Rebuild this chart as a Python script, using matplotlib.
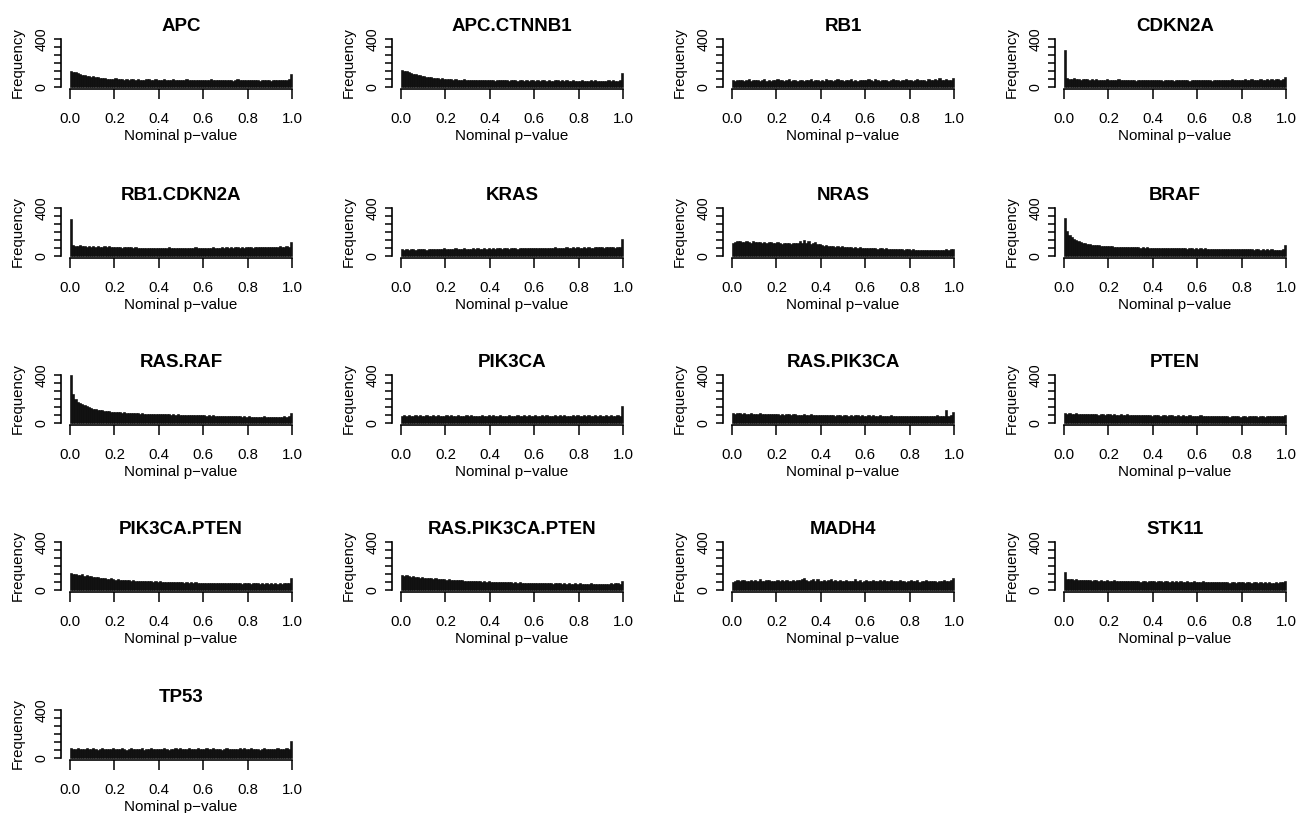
import numpy as np
import matplotlib
matplotlib.use("Agg")
import matplotlib.pyplot as plt

plt.rcParams['font.family'] = ['Liberation Sans', 'DejaVu Sans']

# p-value histograms, 100 bins of width 0.01 on [0, 1]
genes = ['APC', 'APC.CTNNB1', 'RB1', 'CDKN2A',
         'RB1.CDKN2A', 'KRAS', 'NRAS', 'BRAF',
         'RAS.RAF', 'PIK3CA', 'RAS.PIK3CA', 'PTEN',
         'PIK3CA.PTEN', 'RAS.PIK3CA.PTEN', 'MADH4', 'STK11',
         'TP53']

apc = [135, 128, 122, 118, 110, 104, 98, 95, 90, 86,
       88, 84, 80, 76, 74, 72, 70, 68, 70, 66,
       72, 68, 64, 66, 62, 65, 60, 63, 66, 61,
       64, 60, 62, 58, 66, 70, 61, 59, 63, 60,
       62, 58, 65, 60, 57, 61, 64, 59, 56, 62,
       60, 57, 63, 58, 61, 55, 60, 62, 57, 59,
       56, 61, 58, 63, 57, 60, 55, 59, 62, 56,
       58, 61, 57, 54, 60, 65, 58, 56, 61, 57,
       59, 55, 60, 62, 56, 53, 58, 55, 61, 57,
       54, 58, 56, 60, 55, 57, 59, 62, 64, 110]

apc_ctnnb1 = [140, 136, 130, 125, 118, 112, 105, 100, 96, 92,
              90, 85, 82, 80, 77, 75, 73, 70, 72, 68,
              70, 66, 64, 62, 65, 60, 62, 58, 63, 60,
              61, 58, 60, 56, 62, 59, 57, 60, 55, 58,
              57, 60, 54, 58, 56, 61, 55, 57, 53, 58,
              55, 58, 52, 56, 59, 54, 57, 53, 56, 55,
              54, 57, 52, 55, 58, 53, 56, 54, 52, 57,
              55, 51, 56, 53, 58, 54, 52, 55, 50, 54,
              53, 56, 51, 54, 50, 55, 52, 57, 53, 51,
              54, 50, 53, 56, 52, 55, 51, 54, 57, 120]

rb1 = [58, 52, 60, 55, 62, 50, 57, 64, 53, 59,
       55, 61, 50, 58, 66, 54, 57, 52, 60, 56,
       63, 55, 58, 51, 59, 65, 54, 57, 60, 52,
       56, 62, 53, 59, 55, 67, 52, 58, 61, 54,
       57, 52, 63, 56, 60, 53, 58, 66, 55, 59,
       52, 60, 57, 64, 54, 58, 51, 62, 56, 60,
       55, 63, 58, 52, 68, 57, 54, 60, 56, 62,
       53, 59, 65, 55, 58, 52, 61, 57, 64, 56,
       60, 54, 58, 70, 55, 62, 57, 53, 66, 59,
       56, 63, 58, 72, 60, 55, 68, 62, 58, 75]

cdkn2a = [310, 75, 70, 66, 72, 64, 68, 62, 70, 65,
          66, 60, 63, 58, 65, 61, 57, 62, 59, 64,
          58, 62, 56, 60, 63, 57, 61, 55, 59, 62,
          57, 60, 54, 58, 62, 56, 59, 55, 61, 57,
          59, 55, 60, 57, 53, 58, 61, 56, 59, 54,
          57, 60, 55, 58, 62, 56, 54, 59, 57, 60,
          55, 59, 57, 61, 56, 58, 54, 60, 57, 62,
          58, 56, 61, 57, 59, 63, 56, 60, 58, 62,
          59, 63, 57, 61, 65, 58, 62, 60, 64, 59,
          62, 66, 60, 64, 61, 67, 63, 60, 68, 80]

rb1_cdkn2a = [310, 90, 85, 82, 88, 80, 84, 78, 83, 79,
              82, 77, 80, 75, 79, 83, 76, 80, 74, 78,
              76, 72, 75, 70, 74, 77, 71, 73, 69, 72,
              68, 66, 70, 64, 67, 69, 65, 68, 66, 70,
              67, 69, 65, 68, 71, 66, 70, 67, 64, 68,
              66, 70, 67, 64, 69, 66, 71, 68, 65, 69,
              67, 70, 66, 69, 72, 67, 70, 68, 73, 69,
              71, 68, 73, 70, 75, 71, 68, 73, 70, 74,
              72, 76, 70, 74, 78, 72, 76, 73, 77, 74,
              75, 79, 73, 77, 80, 75, 78, 82, 76, 120]

kras = [55, 52, 58, 54, 60, 56, 53, 57, 61, 55,
        57, 54, 59, 62, 56, 58, 55, 60, 57, 63,
        58, 61, 56, 60, 63, 57, 62, 59, 64, 58,
        61, 58, 63, 60, 65, 59, 62, 66, 60, 63,
        62, 65, 60, 64, 67, 61, 66, 63, 60, 65,
        63, 67, 62, 66, 64, 69, 63, 67, 65, 70,
        66, 63, 68, 65, 70, 66, 69, 64, 68, 71,
        67, 70, 65, 69, 72, 68, 66, 71, 69, 73,
        70, 67, 72, 69, 74, 70, 68, 73, 71, 76,
        72, 69, 74, 71, 76, 73, 70, 78, 75, 140]

nras = [105, 118, 122, 125, 120, 116, 123, 119, 112, 121,
        117, 114, 120, 110, 116, 108, 113, 118, 106, 112,
        115, 109, 104, 112, 107, 110, 103, 108, 111, 105,
        128, 110, 134, 112, 124, 100, 108, 115, 96, 102,
        90, 86, 92, 84, 80, 85, 78, 82, 76, 80,
        74, 78, 72, 76, 70, 74, 68, 72, 69, 66,
        70, 67, 64, 69, 65, 62, 66, 63, 60, 64,
        61, 58, 62, 59, 56, 60, 57, 54, 58, 55,
        53, 56, 51, 54, 50, 53, 49, 52, 48, 51,
        50, 47, 52, 49, 54, 51, 56, 53, 58, 62]

braf = [320, 210, 175, 155, 140, 130, 122, 115, 110, 105,
        100, 98, 94, 92, 90, 88, 86, 85, 83, 82,
        80, 82, 78, 79, 76, 78, 74, 76, 73, 75,
        72, 74, 71, 73, 70, 72, 69, 71, 68, 70,
        68, 70, 66, 69, 67, 65, 68, 66, 64, 67,
        65, 67, 63, 66, 64, 62, 65, 63, 61, 64,
        62, 64, 60, 63, 61, 59, 62, 60, 58, 61,
        59, 61, 57, 60, 58, 56, 59, 57, 55, 58,
        57, 59, 55, 58, 56, 54, 57, 55, 53, 56,
        54, 56, 52, 55, 53, 51, 54, 52, 55, 95]

ras_raf = [400, 240, 200, 175, 168, 160, 150, 140, 132, 125,
           120, 116, 112, 108, 105, 102, 100, 97, 95, 93,
           90, 92, 88, 86, 88, 84, 86, 82, 84, 80,
           82, 78, 80, 77, 79, 75, 77, 74, 76, 73,
           75, 72, 74, 71, 73, 70, 72, 69, 71, 68,
           70, 67, 69, 66, 68, 65, 67, 64, 66, 63,
           65, 62, 64, 61, 63, 60, 62, 59, 61, 58,
           60, 57, 59, 56, 58, 55, 57, 54, 56, 53,
           55, 52, 54, 51, 53, 50, 52, 55, 51, 54,
           50, 53, 49, 52, 48, 51, 55, 50, 58, 80]

pik3ca = [60, 64, 58, 66, 61, 57, 63, 59, 65, 62,
          58, 63, 60, 56, 64, 61, 67, 59, 62, 57,
          63, 60, 65, 58, 61, 64, 59, 62, 56, 63,
          61, 66, 58, 62, 60, 57, 64, 61, 59, 63,
          60, 64, 57, 62, 66, 59, 61, 58, 63, 60,
          62, 58, 64, 61, 57, 63, 60, 65, 59, 62,
          64, 60, 57, 63, 61, 66, 59, 62, 58, 64,
          61, 63, 59, 65, 60, 57, 62, 68, 60, 63,
          59, 62, 66, 60, 64, 58, 61, 63, 59, 65,
          62, 60, 64, 58, 63, 61, 59, 66, 62, 140]

ras_pik3ca = [82, 78, 85, 80, 76, 83, 79, 74, 81, 77,
              78, 75, 80, 73, 77, 72, 76, 79, 71, 75,
              73, 70, 74, 69, 72, 76, 68, 71, 73, 67,
              70, 68, 72, 66, 69, 71, 65, 68, 70, 64,
              67, 65, 69, 63, 66, 68, 62, 65, 67, 61,
              64, 66, 62, 65, 60, 63, 66, 61, 64, 59,
              62, 65, 60, 63, 58, 61, 64, 59, 62, 57,
              60, 63, 58, 61, 56, 59, 62, 57, 60, 55,
              58, 61, 56, 59, 62, 57, 60, 55, 58, 61,
              56, 59, 63, 57, 61, 58, 110, 62, 65, 95]

pten = [80, 76, 83, 78, 74, 81, 77, 72, 79, 75,
        77, 73, 78, 71, 75, 70, 74, 77, 69, 73,
        71, 68, 72, 67, 70, 74, 66, 69, 71, 65,
        68, 66, 70, 64, 67, 69, 63, 66, 68, 62,
        65, 63, 67, 61, 64, 66, 60, 63, 65, 59,
        62, 64, 60, 63, 58, 61, 64, 59, 62, 57,
        60, 63, 58, 61, 56, 59, 62, 57, 60, 55,
        58, 61, 56, 59, 54, 57, 60, 55, 58, 53,
        56, 59, 54, 57, 60, 55, 58, 53, 56, 59,
        54, 57, 61, 55, 59, 56, 62, 58, 60, 66]

pik3ca_pten = [140, 132, 136, 128, 125, 130, 120, 124, 115, 118,
               110, 106, 112, 102, 98, 104, 95, 92, 96, 88,
               86, 90, 84, 82, 86, 80, 83, 78, 81, 76,
               78, 75, 77, 73, 76, 72, 74, 70, 73, 69,
               71, 68, 70, 66, 69, 65, 68, 64, 67, 63,
               66, 62, 65, 61, 64, 60, 63, 59, 62, 58,
               61, 57, 60, 56, 59, 62, 58, 55, 60, 57,
               59, 56, 58, 55, 57, 60, 56, 54, 58, 55,
               57, 54, 56, 59, 55, 53, 57, 54, 56, 52,
               55, 53, 56, 52, 57, 54, 58, 55, 60, 100]

ras_pik3ca_pten = [125, 118, 122, 115, 112, 117, 108, 110, 104, 107,
                   100, 103, 97, 99, 94, 96, 91, 93, 89, 90,
                   86, 88, 84, 85, 82, 83, 80, 81, 78, 79,
                   76, 78, 74, 75, 72, 74, 70, 72, 69, 71,
                   68, 70, 66, 68, 65, 67, 64, 66, 63, 65,
                   62, 64, 61, 63, 60, 62, 59, 61, 58, 60,
                   58, 60, 57, 59, 56, 58, 55, 57, 54, 56,
                   55, 57, 54, 56, 53, 55, 52, 54, 56, 53,
                   55, 52, 54, 51, 53, 55, 52, 54, 51, 53,
                   52, 54, 51, 53, 56, 52, 55, 58, 54, 75]

madh4 = [70, 78, 84, 75, 80, 86, 73, 79, 82, 76,
         81, 74, 88, 77, 72, 80, 85, 75, 79, 71,
         83, 76, 80, 73, 86, 78, 74, 82, 77, 81,
         84, 90, 98, 80, 76, 85, 92, 78, 88, 74,
         79, 86, 73, 81, 94, 77, 83, 75, 80, 72,
         78, 84, 71, 79, 75, 88, 74, 82, 70, 77,
         81, 73, 79, 86, 72, 78, 84, 75, 80, 71,
         76, 82, 74, 79, 71, 85, 73, 78, 69, 76,
         80, 72, 77, 83, 70, 78, 74, 81, 72, 76,
         73, 79, 70, 77, 74, 81, 72, 78, 84, 100]

stk11 = [150, 95, 88, 92, 85, 90, 82, 87, 84, 80,
         86, 82, 78, 84, 80, 76, 83, 79, 75, 81,
         78, 74, 80, 76, 72, 78, 75, 71, 77, 73,
         76, 72, 78, 74, 70, 76, 73, 69, 75, 71,
         74, 70, 76, 72, 68, 74, 71, 67, 73, 69,
         72, 68, 74, 70, 66, 72, 69, 65, 71, 67,
         70, 66, 72, 68, 64, 70, 67, 63, 69, 65,
         68, 64, 70, 66, 62, 68, 65, 61, 67, 63,
         66, 62, 68, 64, 60, 66, 63, 59, 65, 61,
         64, 60, 66, 62, 58, 64, 61, 67, 63, 78]

tp53 = [80, 74, 78, 82, 76, 71, 79, 85, 73, 77,
        81, 75, 70, 78, 84, 74, 79, 72, 76, 82,
        73, 78, 71, 80, 75, 69, 77, 83, 74, 79,
        72, 76, 81, 70, 78, 74, 85, 73, 77, 71,
        79, 74, 82, 76, 70, 78, 73, 80, 75, 84,
        71, 77, 74, 81, 76, 72, 79, 83, 74, 78,
        75, 80, 72, 77, 86, 73, 79, 75, 70, 78,
        82, 76, 73, 79, 71, 77, 84, 74, 80, 72,
        76, 81, 73, 78, 75, 70, 79, 83, 74, 77,
        72, 78, 75, 81, 73, 79, 76, 82, 78, 140]

counts = [apc, apc_ctnnb1, rb1, cdkn2a,
          rb1_cdkn2a, kras, nras, braf,
          ras_raf, pik3ca, ras_pik3ca, pten,
          pik3ca_pten, ras_pik3ca_pten, madh4, stk11,
          tp53]

x_ticks = [0.0, 0.2, 0.4, 0.6, 0.8, 1.0]
x_ticklabels = ['0.0', '0.2', '0.4', '0.6', '0.8', '1.0']
y_max = 400

# page layout (pixels): where p = 0 sits for each column, where count = 0 sits for each row
W, H = 1297, 813
col_x0 = [70, 401, 732, 1064]
row_y0 = [87, 256, 423, 590, 758]
px_x = 222.0     # pixels per unit p
px_y = 0.12      # pixels per count
pad_x = 0.04
pad_y = 0.04 * y_max

fig = plt.figure(figsize=(W / 100, H / 100), dpi=100)

edges = np.linspace(0, 1, 101)
for i, (name, c) in enumerate(zip(genes, counts)):
    r, k = divmod(i, 4)
    left = (col_x0[k] - pad_x * px_x) / W
    width = (1 + 2 * pad_x) * px_x / W
    height = (y_max + 2 * pad_y) * px_y / H
    bottom = 1 - (row_y0[r] + pad_y * px_y) / H
    ax = fig.add_axes([left, bottom, width, height])

    ax.bar(edges[:-1], c, width=np.diff(edges), align='edge',
           color='#121212', edgecolor='black', linewidth=0.4)

    ax.set_xlim(-pad_x, 1 + pad_x)
    ax.set_ylim(-pad_y, y_max + pad_y)
    for s in ('top', 'right'):
        ax.spines[s].set_visible(False)
    ax.spines['left'].set_bounds(0, y_max)
    ax.spines['bottom'].set_bounds(0, 1)
    for s in ('left', 'bottom'):
        ax.spines[s].set_linewidth(1.2)

    ax.set_xticks(x_ticks)
    ax.set_xticklabels(x_ticklabels, fontsize=10.8)
    yt = np.linspace(0, y_max, 7)
    ax.set_yticks(yt)
    ax.set_yticklabels(['0', '', '', '', '', '', '400'], rotation=90,
                       va='center', fontsize=10.3)
    ax.tick_params(axis='x', length=7.2, width=1.1, pad=9.5)
    ax.tick_params(axis='y', length=5, width=1.1, pad=4)

    ax.set_title(name, fontsize=13.5, fontweight='bold', pad=4.6)
    ax.set_xlabel('Nominal p\u2212value', fontsize=10.9, va='center')
    ax.xaxis.set_label_coords(0.5, -0.9)
    ax.set_ylabel('Frequency', fontsize=10.8, va='center')
    ax.yaxis.set_label_coords(-0.179, 0.5)

fig.savefig('out.png', dpi=100)
